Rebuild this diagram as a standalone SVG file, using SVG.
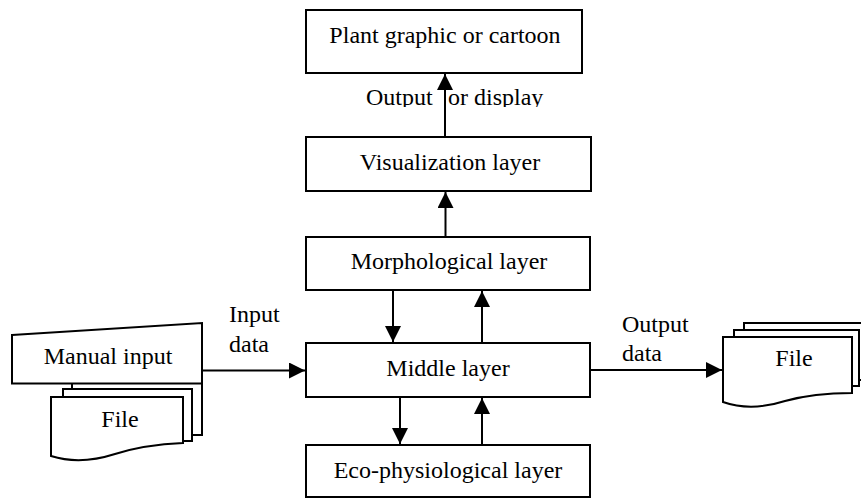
<svg xmlns="http://www.w3.org/2000/svg" width="861" height="499" viewBox="0 0 861 499">
<style>
.box{fill:#fff;stroke:#000;stroke-width:2}
.t{font-family:'Liberation Serif','Times New Roman',serif;font-size:24px;fill:#000}
.m{text-anchor:middle}
.c{fill:none;stroke:#000;stroke-width:2}
</style>
<defs>
<marker id="ah" markerUnits="userSpaceOnUse" markerWidth="16" markerHeight="16" viewBox="0 0 15 15" refX="15" refY="7.5" orient="auto">
<path d="M0,0 L15,7.5 L0,15 z" fill="#000"/>
</marker>
<clipPath id="clipOut"><rect x="300" y="80" width="300" height="27"/></clipPath>
</defs>
<rect width="861" height="499" fill="#fff"/>

<g id="plant">
<rect class="box" x="306" y="10" width="276" height="63"/>
<text class="t m" x="445" y="43">Plant graphic or cartoon</text>
</g>
<g id="vis">
<rect class="box" x="306" y="137" width="285" height="54"/>
<text class="t m" x="450" y="170">Visualization layer</text>
</g>
<g id="morph">
<rect class="box" x="306" y="237" width="284" height="53"/>
<text class="t m" x="449" y="269">Morphological layer</text>
</g>
<g id="middle">
<rect class="box" x="306" y="343" width="284" height="54"/>
<text class="t m" x="448" y="376">Middle layer</text>
</g>
<g id="eco">
<rect class="box" x="306" y="445" width="284" height="52"/>
<text class="t m" x="448" y="478">Eco-physiological layer</text>
</g>

<g id="leftinputs">
<rect class="box" x="72" y="378" width="130" height="57"/>
<polygon class="box" points="12,335 202,323 202,383.5 12,383.5"/>
<text class="t m" x="108" y="364">Manual input</text>
<rect class="box" x="63" y="389" width="129" height="52"/>
<path class="box" d="M51,397 L183,397 L183,443 C160,444 140,446 115,454 C90,462 70,462 51,456 Z"/>
<text class="t m" x="120" y="427">File</text>
</g>

<g id="rightfile">
<rect class="box" x="744" y="323" width="130" height="57"/>
<rect class="box" x="734" y="330" width="125" height="56"/>
<path class="box" d="M723,337 L852,337 L852,393 C830,393 810,394 785,401 C760,409 740,408 723,402 Z"/>
<text class="t m" x="794" y="366">File</text>
</g>

<g id="labels">
<g clip-path="url(#clipOut)">
<text class="t" x="366" y="105">Output</text>
<text class="t" x="448" y="105">or display</text>
</g>
<text class="t" x="229" y="322">Input</text>
<text class="t" x="229" y="352">data</text>
<text class="t" x="622" y="332">Output</text>
<text class="t" x="622" y="361">data</text>
</g>

<g id="connectors">
<line class="c" x1="445" y1="137" x2="445" y2="74" marker-end="url(#ah)"/>
<line class="c" x1="445.5" y1="237" x2="445.5" y2="192" marker-end="url(#ah)"/>
<line class="c" x1="393" y1="290" x2="393" y2="342" marker-end="url(#ah)"/>
<line class="c" x1="482" y1="343" x2="482" y2="291" marker-end="url(#ah)"/>
<line class="c" x1="400" y1="397" x2="400" y2="444" marker-end="url(#ah)"/>
<line class="c" x1="482" y1="445" x2="482" y2="398" marker-end="url(#ah)"/>
<line class="c" x1="202" y1="370.5" x2="305" y2="370.5" marker-end="url(#ah)"/>
<line class="c" x1="590" y1="370" x2="722" y2="370" marker-end="url(#ah)"/>
</g>
</svg>
